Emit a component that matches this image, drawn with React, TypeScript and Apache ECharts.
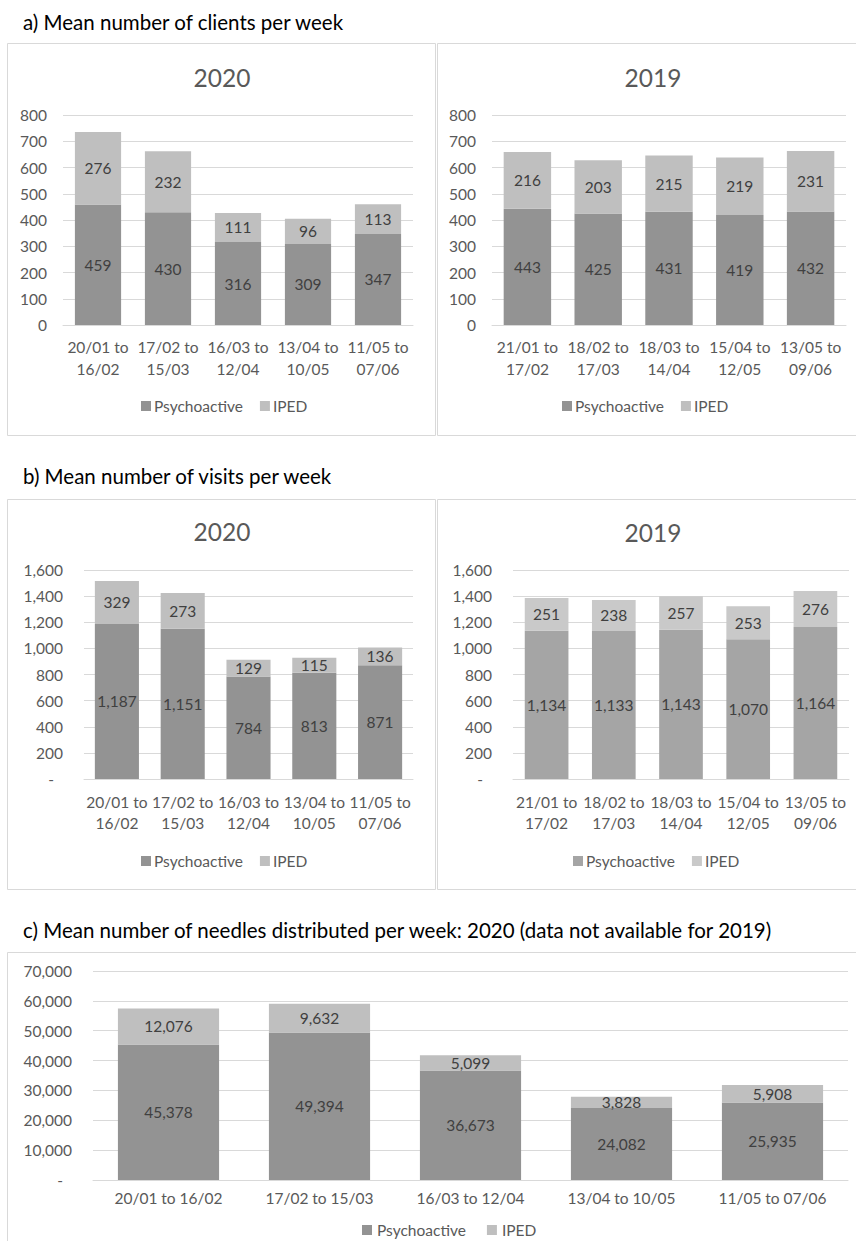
import React, { useEffect, useRef } from "react";
import * as echarts from "echarts";

const SERIES_NAMES = ["Psychoactive", "IPED"];

const periods2020 = ["20/01 to\n16/02", "17/02 to\n15/03", "16/03 to\n12/04", "13/04 to\n10/05", "11/05 to\n07/06"];
const periods2019 = ["21/01 to\n17/02", "18/02 to\n17/03", "18/03 to\n14/04", "15/04 to\n12/05", "13/05 to\n09/06"];
const periodsNeedles = ["20/01 to 16/02", "17/02 to 15/03", "16/03 to 12/04", "13/04 to 10/05", "11/05 to 07/06"];

const clients2020Psycho = [459, 430, 316, 309, 347];
const clients2020Iped = [276, 232, 111, 96, 113];
const clients2019Psycho = [443, 425, 431, 419, 432];
const clients2019Iped = [216, 203, 215, 219, 231];

const visits2020Psycho = [1187, 1151, 784, 813, 871];
const visits2020Iped = [329, 273, 129, 115, 136];
const visits2019Psycho = [1134, 1133, 1143, 1070, 1164];
const visits2019Iped = [251, 238, 257, 253, 276];

const needlesPsycho = [45378, 49394, 36673, 24082, 25935];
const needlesIped = [12076, 9632, 5099, 3828, 5908];

const FONT = "Lato";
const GREY_TEXT = "#595959";
const LINE = "#d9d9d9";
const DARK = "#939393";
const LIGHT = "#bfbfbf";
const DARK_B = "#a5a5a5";
const LIGHT_B = "#c9c9c9";

const fmt = (v: number) => v.toLocaleString("en-US");

function App() {
  const ref = useRef<HTMLDivElement>(null);

  useEffect(() => {
    document.body.style.margin = "0";
    if (!ref.current) return;
    const chart = echarts.init(ref.current, null, { renderer: "svg" });

    const grids = [
      { left: 63, top: 115, width: 350, height: 210 },
      { left: 492, top: 115, width: 354, height: 210 },
      { left: 84, top: 570, width: 329, height: 209 },
      { left: 513, top: 570, width: 336, height: 209 },
      { left: 93, top: 971, width: 755, height: 209 },
    ];
    const cats = [periods2020, periods2019, periods2020, periods2019, periodsNeedles];
    const gaps = ["34%", "33%", "33%", "35%", "33%"];
    const yMax = [800, 800, 1600, 1600, 70000];
    const yInt = [100, 100, 200, 200, 10000];
    const yMargin = [16, 16, 21, 21, 21];
    const dash = [false, false, true, true, true];
    const xMargin = [11, 11, 12, 12, 9];
    const xLineH = [22, 22, 21, 21, 18];
    const psy = [clients2020Psycho, clients2019Psycho, visits2020Psycho, visits2019Psycho, needlesPsycho];
    const iped = [clients2020Iped, clients2019Iped, visits2020Iped, visits2019Iped, needlesIped];
    const darkC = [DARK, DARK, DARK, DARK_B, DARK];
    const lightC = [LIGHT, LIGHT, LIGHT, LIGHT_B, LIGHT];

    const xAxis = grids.map((_, i) => ({
      type: "category",
      gridIndex: i,
      data: cats[i],
      axisLine: { lineStyle: { color: LINE } },
      axisTick: { show: false },
      axisLabel: {
        color: GREY_TEXT,
        fontFamily: FONT,
        fontSize: 15.5,
        lineHeight: xLineH[i],
        margin: xMargin[i],
        interval: 0,
      },
    }));

    const yAxis = grids.map((_, i) => ({
      type: "value",
      gridIndex: i,
      min: 0,
      max: yMax[i],
      interval: yInt[i],
      axisLine: { show: false },
      axisTick: { show: false },
      splitLine: { lineStyle: { color: LINE } },
      axisLabel: {
        color: GREY_TEXT,
        fontFamily: FONT,
        fontSize: 15.5,
        margin: yMargin[i],
        formatter: (v: number) => (dash[i] && v === 0 ? "{d|-}" : fmt(v)),
        rich: { d: { color: GREY_TEXT, fontFamily: FONT, fontSize: 15.5, padding: [0, 9, 0, 0] } },
      },
    }));

    const label = {
      show: true,
      position: "inside",
      color: "#404040",
      fontFamily: FONT,
      fontSize: 15.5,
      formatter: (p: any) => fmt(p.value),
    };

    const series: any[] = [];
    grids.forEach((_, i) => {
      series.push({
        type: "bar",
        name: SERIES_NAMES[0],
        xAxisIndex: i,
        yAxisIndex: i,
        stack: "s" + i,
        data: psy[i],
        barCategoryGap: gaps[i],
        itemStyle: { color: darkC[i] },
        label,
      });
      series.push({
        type: "bar",
        name: SERIES_NAMES[1],
        xAxisIndex: i,
        yAxisIndex: i,
        stack: "s" + i,
        data: iped[i],
        barCategoryGap: gaps[i],
        itemStyle: { color: lightC[i] },
        label,
      });
    });

    const legendPos = [
      { left: 141, cy: 407 },
      { left: 562, cy: 407 },
      { left: 141, cy: 862 },
      { left: 573, cy: 862 },
      { left: 362, cy: 1231 },
    ];
    const legend = legendPos.map((p, i) => ({
      left: p.left,
      top: p.cy - 9,
      padding: 0,
      itemWidth: 10,
      itemHeight: 10,
      itemGap: i === 4 ? 21 : 17,
      icon: "rect",
      selectedMode: false,
      textStyle: { color: GREY_TEXT, fontFamily: FONT, fontSize: 15.5, padding: [0, 0, 0, i === 4 ? 0 : -2] },
      data: [
        { name: SERIES_NAMES[0], itemStyle: { color: darkC[i] } },
        { name: SERIES_NAMES[1], itemStyle: { color: lightC[i] } },
      ],
    }));

    const box = (x: number, y: number, w: number, h: number) => ({
      type: "rect",
      shape: { x: x + 0.5, y: y + 0.5, width: w, height: h },
      style: { fill: "none", stroke: LINE, lineWidth: 1 },
      silent: true,
    });
    const heading = (x: number, y: number, text: string) => ({
      type: "text",
      x,
      y,
      style: { text, fill: "#000", font: `20.5px ${FONT}`, textVerticalAlign: "middle" },
      silent: true,
    });
    const year = (x: number, y: number, text: string) => ({
      type: "text",
      x,
      y,
      style: {
        text,
        fill: GREY_TEXT,
        font: `24.5px ${FONT}`,
        textAlign: "center",
        textVerticalAlign: "middle",
      },
      silent: true,
    });

    const graphic = [
      box(7, 43, 428, 392),
      box(437, 43, 430, 392),
      box(7, 499, 428, 390),
      box(437, 499, 430, 390),
      box(7, 952, 860, 300),
      heading(23, 22, "a) Mean number of clients per week"),
      heading(23, 476, "b) Mean number of visits per week"),
      heading(23, 930, "c) Mean number of needles distributed per week: 2020 (data not available for 2019)"),
      year(222, 77, "2020"),
      year(653, 77, "2019"),
      year(222, 531, "2020"),
      year(653, 532, "2019"),
    ];

    chart.setOption({
      animation: false,
      backgroundColor: "#fff",
      grid: grids,
      xAxis,
      yAxis,
      series,
      legend,
      graphic,
    });

    return () => chart.dispose();
  }, []);

  return <div ref={ref} style={{ width: 856, height: 1241 }} />;
}

export default App;
